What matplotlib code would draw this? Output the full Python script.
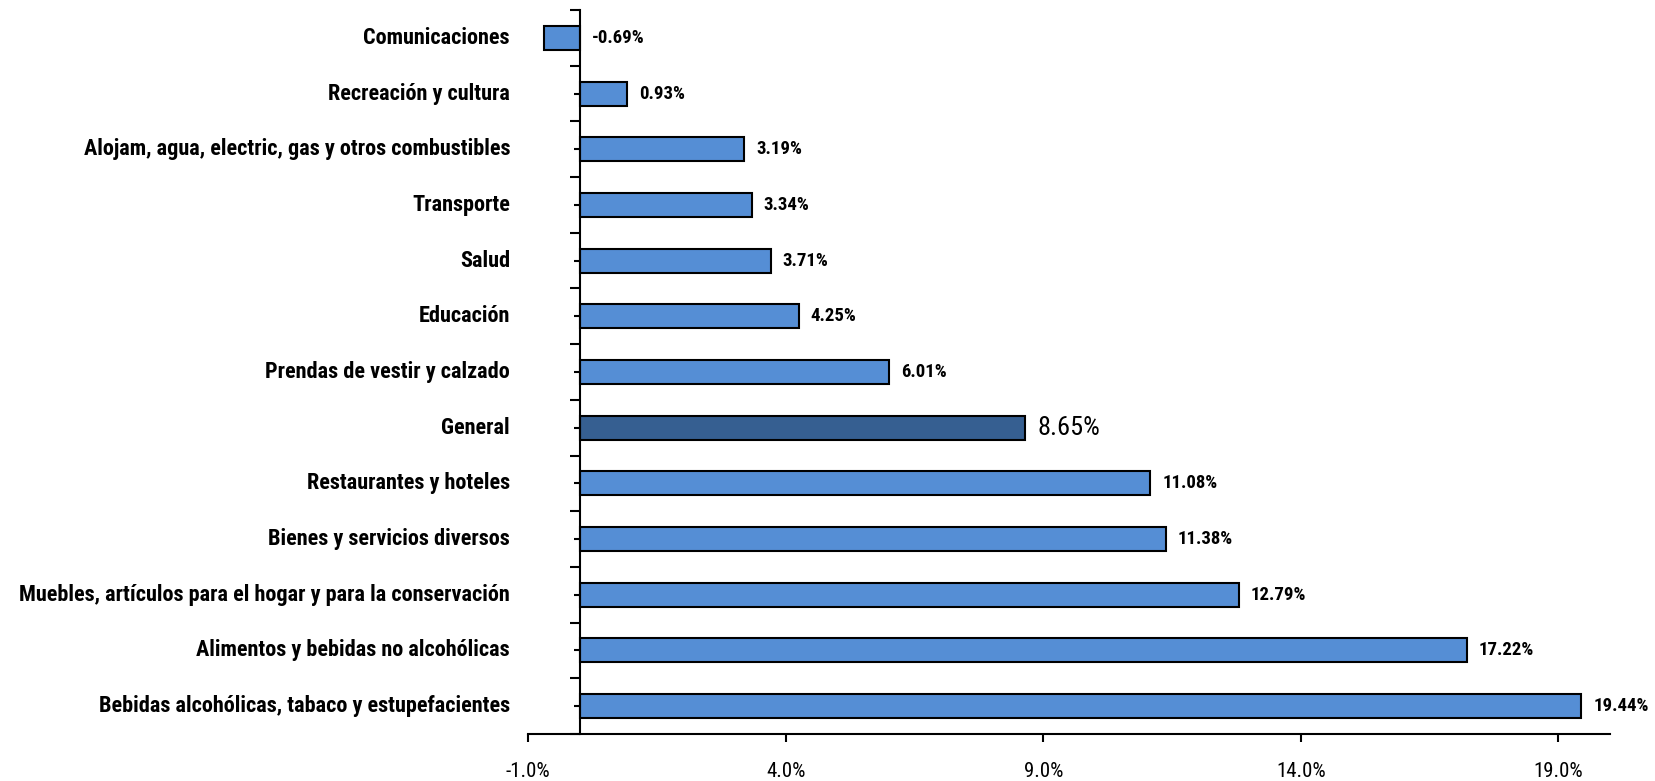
import matplotlib
matplotlib.use("Agg")
import matplotlib.pyplot as plt
import matplotlib.transforms as mtransforms
from matplotlib import font_manager

categories = [
    "Comunicaciones",
    "Recreación y cultura",
    "Alojam, agua, electric, gas y otros combustibles",
    "Transporte",
    "Salud",
    "Educación",
    "Prendas de vestir y calzado",
    "General",
    "Restaurantes y hoteles",
    "Bienes y servicios diversos",
    "Muebles, artículos para el hogar y para la conservación",
    "Alimentos y bebidas no alcohólicas",
    "Bebidas alcohólicas, tabaco y estupefacientes",
]
values = [-0.69, 0.93, 3.19, 3.34, 3.71, 4.25, 6.01, 8.65, 11.08, 11.38, 12.79, 17.22, 19.44]
xtick_values = [-1.0, 4.0, 9.0, 14.0, 19.0]


def weight_num(w):
    if isinstance(w, (int, float)):
        return w
    return font_manager.weight_dict.get(str(w).lower(), 400)


entries = font_manager.fontManager.ttflist
narrow_bold = []
for f in entries:
    is_narrow = ("Narrow" in f.name or "Condensed" in f.name
                 or str(f.stretch).lower() in ("condensed", "semi-condensed", "extra-condensed")
                 or (isinstance(f.stretch, (int, float)) and f.stretch < 500))
    if is_narrow and weight_num(f.weight) >= 600 and f.style == 'normal':
        narrow_bold.append(f)

pref = ["Liberation Sans Narrow", "Arial Narrow", "Roboto Condensed", "Noto Sans", "Open Sans"]
chosen = None
for p in pref:
    for f in narrow_bold:
        if f.name == p:
            chosen = f
            break
    if chosen:
        break
if chosen is None and narrow_bold:
    chosen = sorted(narrow_bold, key=lambda f: f.name)[0]

if chosen is not None:
    bold_fp = font_manager.FontProperties(fname=chosen.fname)
    reg = None
    for f in entries:
        if f.name == chosen.name and weight_num(f.weight) <= 450 and f.style == 'normal' \
                and f.stretch == chosen.stretch:
            reg = f
            break
    reg_fp = font_manager.FontProperties(fname=reg.fname) if reg else bold_fp
    cat_fs = 16
else:
    bold_fp = font_manager.FontProperties(family='Liberation Sans', weight='bold')
    reg_fp = font_manager.FontProperties(family='Liberation Sans')
    cat_fs = 13.3

BAR = "#558ED5"
GEN = "#365F91"

fig = plt.figure(figsize=(16.55, 7.81), dpi=100)
ax = fig.add_axes([528/1655, 1-734/781, (1610-528)/1655, (734-10)/781])

n = len(categories)
ypos = list(range(n))
colors = [GEN if c == "General" else BAR for c in categories]
ax.barh(ypos, values, height=0.43, color=colors, edgecolor="black", linewidth=1.5, zorder=2)

ax.set_xlim(-1.0, 20.0)
ax.set_ylim(n - 0.5, -0.5)

ax.spines['top'].set_visible(False)
ax.spines['right'].set_visible(False)
ax.spines['left'].set_position(('data', 0))
ax.spines['left'].set_linewidth(1.5)
ax.spines['bottom'].set_linewidth(1.5)
ax.spines['left'].set_zorder(3)

ax.set_xticks(xtick_values)
ax.set_xticklabels([])
ax.tick_params(axis='x', direction='out', length=5.8, width=1.5)
xtrans = mtransforms.blended_transform_factory(ax.transData, fig.transFigure)
for v in xtick_values:
    ax.text(v, 4/781, f"{v:.1f}%", transform=xtrans, ha='center', va='baseline',
            fontproperties=reg_fp, fontsize=15, clip_on=False)

ax.set_yticks(ypos)
ax.set_yticklabels([])
ax.set_yticks([i + 0.5 for i in range(-1, n)], minor=True)
ax.tick_params(axis='y', which='major', direction='out', length=4, width=1.5)
ax.tick_params(axis='y', which='minor', direction='out', length=7, width=1.5)

trans = mtransforms.blended_transform_factory(fig.transFigure, ax.transData)
for y, c in zip(ypos, categories):
    ax.text(510/1655, y, c, transform=trans, ha='right', va='center',
            fontproperties=bold_fp, fontsize=cat_fs)

offset = mtransforms.offset_copy(ax.transData, fig=fig, x=12, y=0, units='dots')
for y, v, c in zip(ypos, values, categories):
    if c == "General":
        ax.text(max(v, 0), y, f"{v:.2f}%", transform=offset, ha='left', va='center',
                fontproperties=reg_fp, fontsize=19)
    else:
        ax.text(max(v, 0), y, f"{v:.2f}%", transform=offset, ha='left', va='center',
                fontproperties=bold_fp, fontsize=13.5)

fig.savefig("out.png", dpi=100)
